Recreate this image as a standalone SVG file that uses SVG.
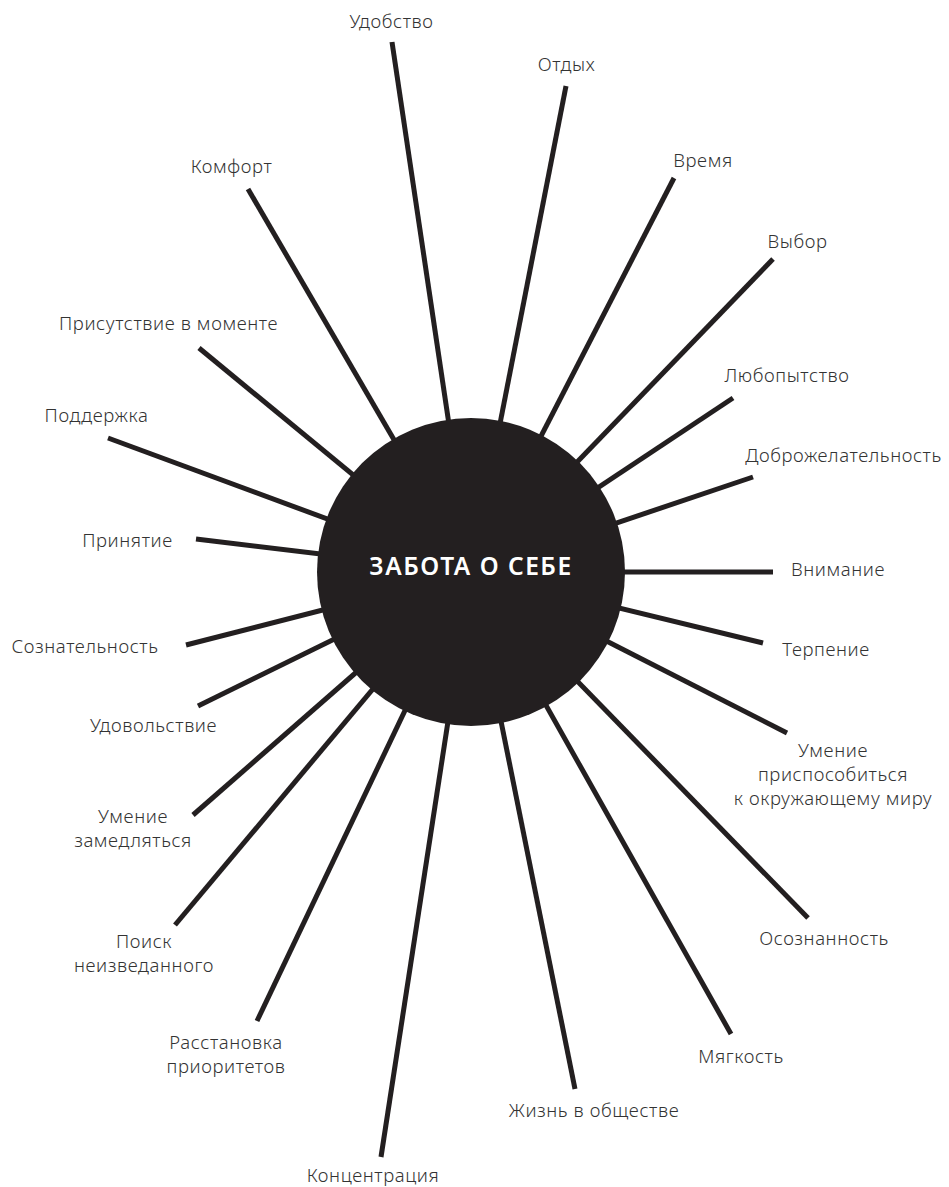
<svg xmlns="http://www.w3.org/2000/svg" width="949" height="1187" viewBox="0 0 949 1187">
<style>
.lbl{font-family:"Noto Sans","DejaVu Sans",sans-serif;font-weight:300;font-size:18.5px;letter-spacing:0.6px;fill:#333;text-anchor:middle}
.ray{stroke:#231f20;stroke-width:5;stroke-linecap:butt;fill:none}
.hub{fill:#231f20}
.hubt{font-family:"Noto Sans","DejaVu Sans",sans-serif;font-weight:600;font-size:24.5px;letter-spacing:1.5px;fill:#fff;text-anchor:middle}
</style>
<rect width="949" height="1187" fill="#fff"/>
<g id="connectors">
<line class="ray" x1="392" y1="42" x2="471" y2="572"/>
<line class="ray" x1="566" y1="86" x2="471" y2="572"/>
<line class="ray" x1="674" y1="178" x2="471" y2="572"/>
<line class="ray" x1="773" y1="259" x2="471" y2="572"/>
<line class="ray" x1="733" y1="398" x2="471" y2="572"/>
<line class="ray" x1="753" y1="477" x2="471" y2="572"/>
<line class="ray" x1="773" y1="572" x2="471" y2="572"/>
<line class="ray" x1="763" y1="643" x2="471" y2="572"/>
<line class="ray" x1="787" y1="733" x2="471" y2="572"/>
<line class="ray" x1="808" y1="918" x2="471" y2="572"/>
<line class="ray" x1="731" y1="1034" x2="471" y2="572"/>
<line class="ray" x1="575" y1="1089" x2="471" y2="572"/>
<line class="ray" x1="381" y1="1157" x2="471" y2="572"/>
<line class="ray" x1="257" y1="1021" x2="471" y2="572"/>
<line class="ray" x1="175" y1="925" x2="471" y2="572"/>
<line class="ray" x1="193" y1="815" x2="471" y2="572"/>
<line class="ray" x1="198" y1="706" x2="471" y2="572"/>
<line class="ray" x1="186" y1="645" x2="471" y2="572"/>
<line class="ray" x1="196" y1="539" x2="471" y2="572"/>
<line class="ray" x1="108" y1="438" x2="471" y2="572"/>
<line class="ray" x1="199" y1="348" x2="471" y2="572"/>
<line class="ray" x1="248" y1="189" x2="471" y2="572"/>
</g>
<g id="center">
<circle class="hub" cx="471" cy="572" r="154"/>
<text class="hubt" x="471" y="575">ЗАБОТА О СЕБЕ</text>
</g>
<g id="n-udobstvo"><text class="lbl" x="391.5" y="28">Удобство</text></g>
<g id="n-otdyh"><text class="lbl" x="566.5" y="71">Отдых</text></g>
<g id="n-vremya"><text class="lbl" x="703" y="167">Время</text></g>
<g id="n-vybor"><text class="lbl" x="797.5" y="248">Выбор</text></g>
<g id="n-lyubopytstvo"><text class="lbl" x="787" y="382">Любопытство</text></g>
<g id="n-dobrozhelatelnost"><text class="lbl" x="843.5" y="462">Доброжелательность</text></g>
<g id="n-vnimanie"><text class="lbl" x="838" y="576">Внимание</text></g>
<g id="n-terpenie"><text class="lbl" x="826" y="656">Терпение</text></g>
<g id="n-umenie-prisposobitsya"><text class="lbl" x="833" y="757">Умение</text><text class="lbl" x="833" y="781">приспособиться</text><text class="lbl" x="833" y="805">к окружающему миру</text></g>
<g id="n-osoznannost"><text class="lbl" x="824" y="945">Осознанность</text></g>
<g id="n-myagkost"><text class="lbl" x="741" y="1063">Мягкость</text></g>
<g id="n-zhizn"><text class="lbl" x="594" y="1117">Жизнь в обществе</text></g>
<g id="n-koncentraciya"><text class="lbl" x="373" y="1182">Концентрация</text></g>
<g id="n-rasstanovka"><text class="lbl" x="226" y="1049">Расстановка</text><text class="lbl" x="226" y="1073">приоритетов</text></g>
<g id="n-poisk"><text class="lbl" x="144" y="948">Поиск</text><text class="lbl" x="144" y="972">неизведанного</text></g>
<g id="n-zamedlyatsya"><text class="lbl" x="133" y="823">Умение</text><text class="lbl" x="133" y="847">замедляться</text></g>
<g id="n-udovolstvie"><text class="lbl" x="153.5" y="732">Удовольствие</text></g>
<g id="n-soznatelnost"><text class="lbl" x="85" y="653">Сознательность</text></g>
<g id="n-prinyatie"><text class="lbl" x="127.5" y="547">Принятие</text></g>
<g id="n-podderzhka"><text class="lbl" x="96.5" y="422">Поддержка</text></g>
<g id="n-prisutstvie"><text class="lbl" x="168.5" y="330">Присутствие в моменте</text></g>
<g id="n-komfort"><text class="lbl" x="231.5" y="173">Комфорт</text></g>
</svg>
